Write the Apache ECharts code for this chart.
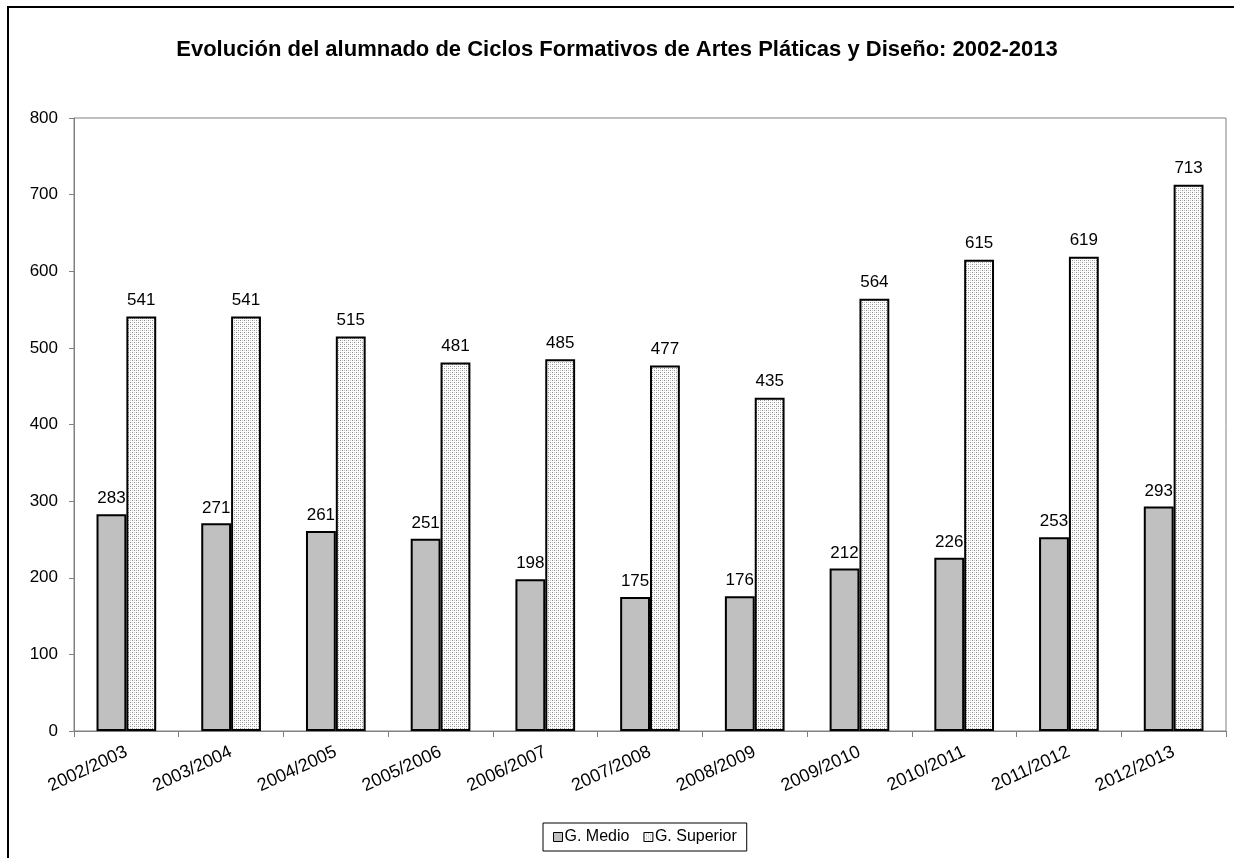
<!DOCTYPE html>
<html>
<head>
<meta charset="utf-8">
<script src="https://cdn.jsdelivr.net/npm/echarts@6/dist/echarts.min.js"></script>
<style>
  html, body { margin: 0; padding: 0; background: #fff; }
  #chart { width: 1234px; height: 858px; }
</style>
</head>
<body>
<div id="chart"></div>
<script>
var cursos = ['2002/2003', '2003/2004', '2004/2005', '2005/2006', '2006/2007', '2007/2008',
  '2008/2009', '2009/2010', '2010/2011', '2011/2012', '2012/2013']
var gMedio = [283, 271, 261, 251, 198, 175, 176, 212, 226, 253, 293]
var gSuperior = [541, 541, 515, 481, 485, 477, 435, 564, 615, 619, 713]

// dotted fill like the original spreadsheet pattern
function dots () {
  var c = document.createElement('canvas')
  c.width = 4
  c.height = 4
  var ctx = c.getContext('2d')
  ctx.fillStyle = '#ffffff'
  ctx.fillRect(0, 0, 4, 4)
  ctx.fillStyle = '#8c8c8c'
  ctx.fillRect(0, 0, 1, 1)
  ctx.fillRect(2, 2, 1, 1)
  ctx.fillStyle = '#c8c8c8'
  ctx.fillRect(2, 0, 1, 1)
  ctx.fillRect(0, 2, 1, 1)
  return c
}

var font = 'Liberation Sans, Arial, sans-serif'
var myChart = echarts.init(document.getElementById('chart'))
var option = {
  animation: false,
  textStyle: { fontFamily: font },
  title: {
    text: 'Evolución del alumnado de Ciclos Formativos de Artes Pláticas y Diseño: 2002-2013',
    left: 'center',
    top: 34,
    textStyle: { fontSize: 22, fontWeight: 'bold', color: '#000', fontFamily: font }
  },
  graphic: [{
    type: 'rect',
    shape: { x: 8, y: 7, width: 1240, height: 880 },
    style: { fill: 'none', stroke: '#000', lineWidth: 2 },
    silent: true
  }],
  legend: {
    bottom: 7,
    left: 543,
    itemWidth: 9,
    itemHeight: 9,
    itemGap: 14,
    borderColor: '#000',
    borderWidth: 1,
    padding: [6, 10, 6, 10],
    borderRadius: 0,
    textStyle: { fontSize: 16, color: '#000', fontFamily: font, padding: [0, 0, 0, -3] },
    data: [
      { name: 'G. Medio', icon: 'rect', itemStyle: { color: '#c0c0c0', borderColor: '#000', borderWidth: 1 } },
      { name: 'G. Superior', icon: 'rect', itemStyle: { borderColor: '#000', borderWidth: 1 } }
    ]
  },
  grid: {
    left: 74,
    right: 8,
    top: 118,
    bottom: 127,
    show: true,
    borderColor: '#808080',
    borderWidth: 1
  },
  xAxis: {
    type: 'category',
    data: cursos,
    axisLine: { lineStyle: { color: '#808080', width: 1 } },
    axisTick: { show: true, length: 6, lineStyle: { color: '#808080' } },
    axisLabel: {
      rotate: 25,
      fontSize: 18,
      color: '#000',
      margin: 20,
      fontFamily: font
    }
  },
  yAxis: {
    type: 'value',
    min: 0,
    max: 800,
    interval: 100,
    axisLine: { show: true, lineStyle: { color: '#808080', width: 1 } },
    axisTick: { show: true, length: 5, lineStyle: { color: '#808080' } },
    splitLine: { show: false },
    axisLabel: { fontSize: 17, color: '#000', margin: 16, fontFamily: font }
  },
  series: [
    {
      name: 'G. Medio',
      type: 'bar',
      data: gMedio,
      barGap: '0%',
      barCategoryGap: '43%',
      itemStyle: { color: '#c0c0c0', borderColor: '#000', borderWidth: 2 },
      label: {
        show: true,
        position: 'top',
        fontSize: 17,
        color: '#000',
        distance: 7,
        fontFamily: font
      }
    },
    {
      name: 'G. Superior',
      type: 'bar',
      data: gSuperior,
      barGap: '0%',
      barCategoryGap: '43%',
      itemStyle: { color: { image: dots(), repeat: 'repeat' }, borderColor: '#000', borderWidth: 2 },
      label: {
        show: true,
        position: 'top',
        fontSize: 17,
        color: '#000',
        distance: 8,
        fontFamily: font
      }
    }
  ]
}
myChart.setOption(option)
</script>
</body>
</html>
